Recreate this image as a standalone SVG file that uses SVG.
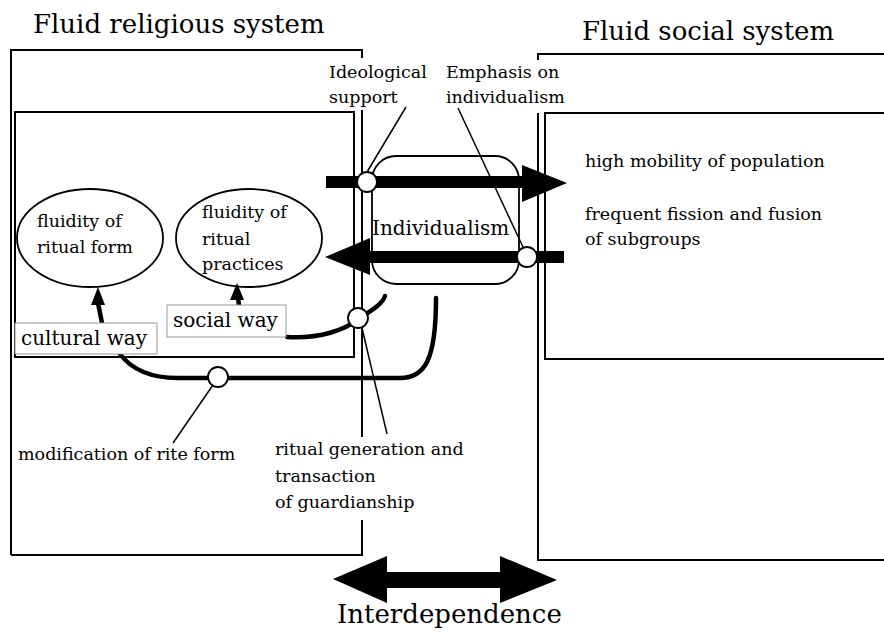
<svg xmlns="http://www.w3.org/2000/svg" width="884" height="632" viewBox="0 0 884 632">
<style>
text{font-family:"DejaVu Serif","Liberation Serif",serif;fill:#000}
.box{fill:none;stroke:#000;stroke-width:2}
.t26{font-size:26px}
.t20{font-size:20px}
.t17{font-size:17.5px}
.lead{fill:none;stroke:#000;stroke-width:1.5}
.thick{fill:none;stroke:#000;stroke-width:4.5;stroke-linecap:round}
.ell{fill:#fff;stroke:#000;stroke-width:1.8}
.lbl{fill:#fff;stroke:#999;stroke-width:1}
.dot{fill:#fff;stroke:#000;stroke-width:1.8}
.blk{fill:#000;stroke:none}
</style>
<rect width="884" height="632" fill="#fff"/>

<g id="religious-system">
<text class="t26" x="33" y="33">Fluid religious system</text>
<path class="box" d="M11,555 V50 H362 V58 M362,110 V437 M362,520 V555 H11"/>
<rect class="box" x="15" y="112" width="339" height="245"/>
</g>

<g id="social-system">
<text class="t26" x="582" y="40">Fluid social system</text>
<path class="box" d="M884,54 H538 V60 M538,113 V560 H884"/>
<path class="box" d="M884,113 H545 V359 H884"/>
<text class="t17" x="585" y="167">high mobility of population</text>
<text class="t17" x="585" y="220">frequent fission and fusion</text>
<text class="t17" x="585" y="245">of subgroups</text>
</g>

<g id="individualism">
<rect x="372" y="156" width="147" height="128" rx="24" ry="24" fill="#fff" stroke="#000" stroke-width="1.8"/>
<text class="t20" x="372" y="235">Individualism</text>
</g>

<g id="fluidity-form">
<ellipse class="ell" cx="90" cy="238" rx="73" ry="49"/>
<text class="t17" x="37" y="227">fluidity of</text>
<text class="t17" x="37" y="253">ritual form</text>
</g>

<g id="fluidity-practices">
<ellipse class="ell" cx="249" cy="238" rx="73" ry="49"/>
<text class="t17" x="202" y="218">fluidity of</text>
<text class="t17" x="202" y="245">ritual</text>
<text class="t17" x="202" y="270">practices</text>
</g>

<g id="labels">
<text class="t17" x="329" y="78">Ideological</text>
<text class="t17" x="329" y="103">support</text>
<text class="t17" x="446" y="78">Emphasis on</text>
<text class="t17" x="446" y="103">individualism</text>
<text class="t17" x="18" y="460">modification of rite form</text>
<text class="t17" x="275" y="455">ritual generation and</text>
<text class="t17" x="275" y="482">transaction</text>
<text class="t17" x="275" y="508">of guardianship</text>
</g>

<g id="connectors">
<!-- big horizontal arrows -->
<rect class="blk" x="326" y="176" width="198" height="12"/>
<polygon class="blk" points="522,165 567,183 522,202"/>
<rect class="blk" x="368" y="251" width="196" height="12"/>
<polygon class="blk" points="370,238 325,257 370,275"/>
<!-- thick curves -->
<path class="thick" d="M287,337 C320,339 345,330 360,318 C374,309 383,303 385,296"/>
<path class="thick" d="M120,354 C132,370 150,378 178,378 L400,378 C425,378 436,360 436,298"/>
<!-- small arrows -->
<path class="thick" d="M102,323 Q100,313 98,303" stroke-linecap="butt"/>
<polygon class="blk" points="98,287 91,305 105,305"/>
<path class="thick" d="M239,305 L238,298" stroke-linecap="butt"/>
<polygon class="blk" points="237,283 230,300 244,300"/>
<!-- leaders -->
<path class="lead" d="M406,107 L367,172"/>
<path class="lead" d="M458,108 L523,247"/>
<path class="lead" d="M213,385 L173,443"/>
<path class="lead" d="M362,328 L387,434"/>
<!-- junction dots -->
<circle class="dot" cx="367" cy="182" r="10"/>
<circle class="dot" cx="527" cy="257" r="10"/>
<circle class="dot" cx="358" cy="318" r="10"/>
<circle class="dot" cx="218" cy="377" r="10"/>
<!-- interdependence arrow -->
<polygon class="blk" points="333,579 387,556 387,572 500,572 500,556 557,580 500,603 500,588 387,588 387,603"/>
</g>

<g id="way-labels">
<rect class="lbl" x="167" y="305" width="119" height="32"/>
<text class="t20" x="173" y="327">social way</text>
<rect class="lbl" x="15" y="323" width="142" height="31"/>
<text class="t20" x="21" y="345">cultural way</text>
</g>

<g id="interdependence">
<text class="t26" x="337" y="623">Interdependence</text>
</g>
</svg>
